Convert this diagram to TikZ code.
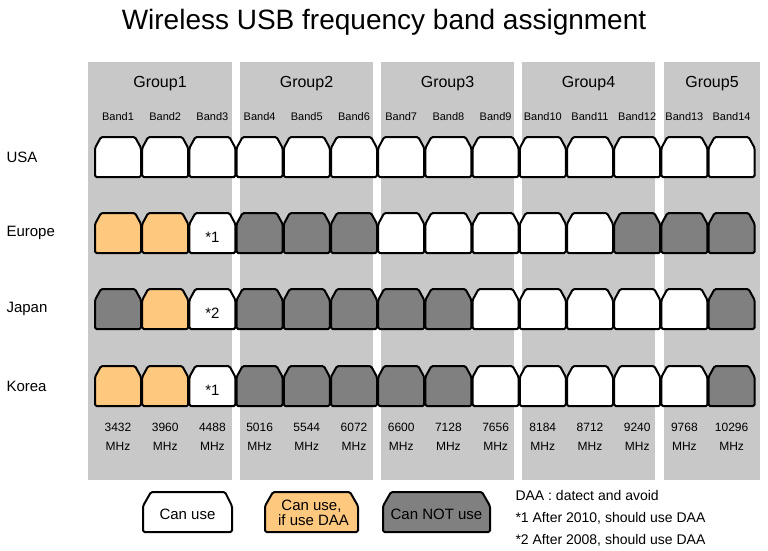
\documentclass[tikz,border=0pt]{standalone}
\usepackage{fontspec}
\setmainfont{Liberation Sans}
\usetikzlibrary{positioning}
\definecolor{bggray}{HTML}{C8C8C8}
\definecolor{daa}{HTML}{FFC87F}
\definecolor{nouse}{HTML}{808080}
\tikzset{
  band/.style={draw=black,line width=2pt,rounded corners=1.5pt,line join=round},
  grp/.style={fill=bggray,draw=none},
  lbl/.style={font=\fontsize{11}{12}\selectfont},
}
\newcommand{\bandshape}[4]{% cx, cy, fill, text
  \draw[band,fill=#3] (#1-23,#2+20) -- (#1-23,#2-9) -- (#1-17,#2-20) -- (#1+17,#2-20)
    -- (#1+23,#2-9) -- (#1+23,#2+20) -- cycle;
  \node[font=\fontsize{15}{16}\selectfont] at (#1,#2+4) {#4};}
\begin{document}
\begin{tikzpicture}[x=1pt,y=-1pt]
  \useasboundingbox (0,0) rectangle (768,550);
  \node[font=\fontsize{28}{30}\selectfont] (title) at (384,22) {Wireless USB frequency band assignment};
  % group backgrounds
  \foreach \a/\b/\n/\g in {88/232/1/Group1,240/373/2/Group2,381/514/3/Group3,522/655/4/Group4,664/760/5/Group5}{
    \fill[grp] (\a,62) rectangle (\b,480);
    \node[font=\fontsize{16}{18}\selectfont] (g\n) at ({(\a+\b)/2},84) {\g};
  }
  % row labels
  \foreach \r/\y in {USA/157,Europe/233,Japan/309,Korea/386}
    \node[anchor=west,font=\fontsize{15}{16}\selectfont] (\r) at (3,\y) {\r};
  % bands
  \foreach \i/\f/\e/\j/\k in {1/3432/daa/nouse/daa,2/3960/daa/daa/daa,3/4488/white/white/white,
      4/5016/nouse/nouse/nouse,5/5544/nouse/nouse/nouse,6/6072/nouse/nouse/nouse,
      7/6600/white/nouse/nouse,8/7128/white/nouse/nouse,9/7656/white/white/white,
      10/8184/white/white/white,11/8712/white/white/white,12/9240/nouse/white/white,
      13/9768/nouse/white/white,14/10296/nouse/nouse/nouse}{
    \pgfmathsetmacro{\cx}{118+47.2*(\i-1)}
    \node[lbl] (b\i) at (\cx,117) {Band\i};
    \bandshape{\cx}{157}{white}{}
    \ifnum\i=3
      \bandshape{\cx}{233}{\e}{*1}
      \bandshape{\cx}{309}{\j}{*2}
      \bandshape{\cx}{386}{\k}{*1}
    \else
      \bandshape{\cx}{233}{\e}{}
      \bandshape{\cx}{309}{\j}{}
      \bandshape{\cx}{386}{\k}{}
    \fi
    \node[font=\fontsize{12}{19}\selectfont,align=center] (f\i) at (\cx,437) {\f\\MHz};
  }
  % legend
  \draw[band,fill=white] (143,532) -- (143,506) -- (151,492) -- (225,492) -- (232,506) -- (232,532) -- cycle;
  \node[font=\fontsize{15}{16}\selectfont] (l1) at (187.5,514) {Can use};
  \draw[band,fill=daa] (265,532) -- (265,506) -- (273,492) -- (350,492) -- (358,506) -- (358,532) -- cycle;
  \node[font=\fontsize{15}{15}\selectfont,align=center] (l2) at (311.5,513) {Can use,\\ \ if use DAA};
  \draw[band,fill=nouse] (383,532) -- (383,506) -- (391,492) -- (482,492) -- (490,506) -- (490,532) -- cycle;
  \node[font=\fontsize{15}{16}\selectfont] (l3) at (436.5,514) {Can NOT use};
  \node[anchor=west,font=\fontsize{14}{22}\selectfont,align=left] (notes) at (512,518)
    {DAA : datect and avoid\\*1 After 2010, should use DAA\\*2 After 2008, should use DAA};
\end{tikzpicture}
\end{document}
